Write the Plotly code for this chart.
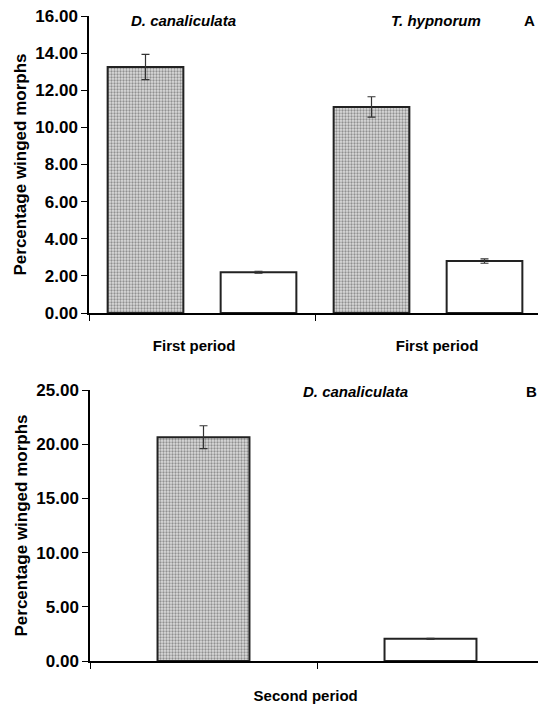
import plotly.graph_objects as go

# ---- data ----
period_labels_A = ["First period", "First period"]
species_A = ["D. canaliculata", "T. hypnorum"]
values_A = [13.25, 2.20, 11.10, 2.80]
errors_A = [0.68, 0.05, 0.55, 0.12]
y_ticks_A = [0, 2, 4, 6, 8, 10, 12, 14, 16]

period_labels_B = ["Second period"]
species_B = ["D. canaliculata"]
values_B = [20.65, 2.05]
errors_B = [1.05, 0.05]
y_ticks_B = [0, 5, 10, 15, 20, 25]

panel_letters = ["A", "B"]

W, H = 538, 704
FONT = "Liberation Sans, Arial, sans-serif"
shade = "#dcdcdc"
dots = "#9c9c9c"
outline = "#222222"

def colors(n):
    return [shade if i % 2 == 0 else "white" for i in range(n)]

def shapes(n):
    return ["." if i % 2 == 0 else "" for i in range(n)]

fig = go.Figure()

fig.add_trace(go.Bar(
    x=list(range(len(values_A))), y=values_A, width=0.67,
    marker=dict(color=colors(len(values_A)),
                line=dict(color=outline, width=2),
                pattern=dict(shape=shapes(len(values_A)), fillmode="overlay",
                             fgcolor=dots, size=3, solidity=0.45)),
    error_y=dict(type="data", array=errors_A, color="#333333", thickness=1.2, width=4),
    xaxis="x", yaxis="y", showlegend=False))

fig.add_trace(go.Bar(
    x=list(range(len(values_B))), y=values_B, width=0.405,
    marker=dict(color=colors(len(values_B)),
                line=dict(color=outline, width=2),
                pattern=dict(shape=shapes(len(values_B)), fillmode="overlay",
                             fgcolor=dots, size=3, solidity=0.45)),
    error_y=dict(type="data", array=errors_B, color="#333333", thickness=1.2, width=4),
    xaxis="x2", yaxis="y2", showlegend=False))

tickfont = dict(family=FONT, size=17, color="black", weight="bold")
ytitle_font = dict(family=FONT, size=17, color="black", weight="bold")
xlabel_font = dict(family=FONT, size=15, color="black", weight="bold")

def px_x(p):
    return p / W

def px_y(p):
    return 1 - p / H

axA_x0, axA_x1, axA_top, axA_bot = 89, 538, 16, 313
axB_x0, axB_x1, axB_top, axB_bot = 90, 538, 390, 661

catA = 113.0
catB = 227.0

common = dict(showgrid=False, zeroline=False, showline=True, linecolor="black",
              linewidth=1.5, automargin=False)

fig.update_layout(
    width=W, height=H,
    margin=dict(l=0, r=0, t=0, b=0, autoexpand=False),
    paper_bgcolor="white", plot_bgcolor="white",
    font=dict(family=FONT, color="black"),
    xaxis=dict(domain=[px_x(axA_x0), px_x(axA_x1)],
               range=[-0.5, -0.5 + (axA_x1 - axA_x0) / catA],
               anchor="y", **common,
               tickvals=[0.43, 2.58], ticktext=period_labels_A,
               ticks="", tickfont=xlabel_font,
               ticklabelstandoff=18,
               minor=dict(tickvals=[-0.5, 1.5], ticks="outside", ticklen=6,
                          tickcolor="black", tickwidth=1.2, showgrid=False)),
    yaxis=dict(domain=[px_y(axA_bot), px_y(axA_top)], range=[0, 16],
               anchor="x", **common,
               tickvals=y_ticks_A, ticktext=[f"{v:.2f}" for v in y_ticks_A],
               ticks="outside", ticklen=6, tickcolor="black", tickwidth=1.2,
               tickfont=tickfont,
               title=dict(text="Percentage winged morphs", font=ytitle_font, standoff=4)),
    xaxis2=dict(domain=[px_x(axB_x0), px_x(axB_x1)],
                range=[-0.5, -0.5 + (axB_x1 - axB_x0) / catB],
                anchor="y2", **common,
                tickvals=[0.45], ticktext=period_labels_B,
                ticks="", tickfont=xlabel_font,
                ticklabelstandoff=20,
                minor=dict(tickvals=[-0.5, 0.5], ticks="outside", ticklen=6,
                           tickcolor="black", tickwidth=1.2, showgrid=False)),
    yaxis2=dict(domain=[px_y(axB_bot), px_y(axB_top)], range=[0, 25],
                anchor="x2", **common,
                tickvals=y_ticks_B, ticktext=[f"{v:.2f}" for v in y_ticks_B],
                ticks="outside", ticklen=6, tickcolor="black", tickwidth=1.2,
                tickfont=tickfont,
                title=dict(text="Percentage winged morphs", font=ytitle_font, standoff=4)),
)

title_font = dict(family=FONT, size=15, color="black", weight="bold", style="italic")
letter_font = dict(family=FONT, size=15, color="black", weight="bold")

fig.add_annotation(text=species_A[0], x=px_x(183), y=px_y(20), xref="paper", yref="paper",
                   showarrow=False, font=title_font, xanchor="center", yanchor="middle")
fig.add_annotation(text=species_A[1], x=px_x(436), y=px_y(20), xref="paper", yref="paper",
                   showarrow=False, font=title_font, xanchor="center", yanchor="middle")
fig.add_annotation(text=panel_letters[0], x=px_x(529), y=px_y(20), xref="paper", yref="paper",
                   showarrow=False, font=letter_font, xanchor="center", yanchor="middle")
fig.add_annotation(text=species_B[0], x=px_x(355), y=px_y(392), xref="paper", yref="paper",
                   showarrow=False, font=title_font, xanchor="center", yanchor="middle")
fig.add_annotation(text=panel_letters[1], x=px_x(531), y=px_y(392), xref="paper", yref="paper",
                   showarrow=False, font=letter_font, xanchor="center", yanchor="middle")

fig.write_html("out.html", config={"displayModeBar": False},
               post_script="document.body.style.margin='0';document.body.style.overflow='hidden';")
